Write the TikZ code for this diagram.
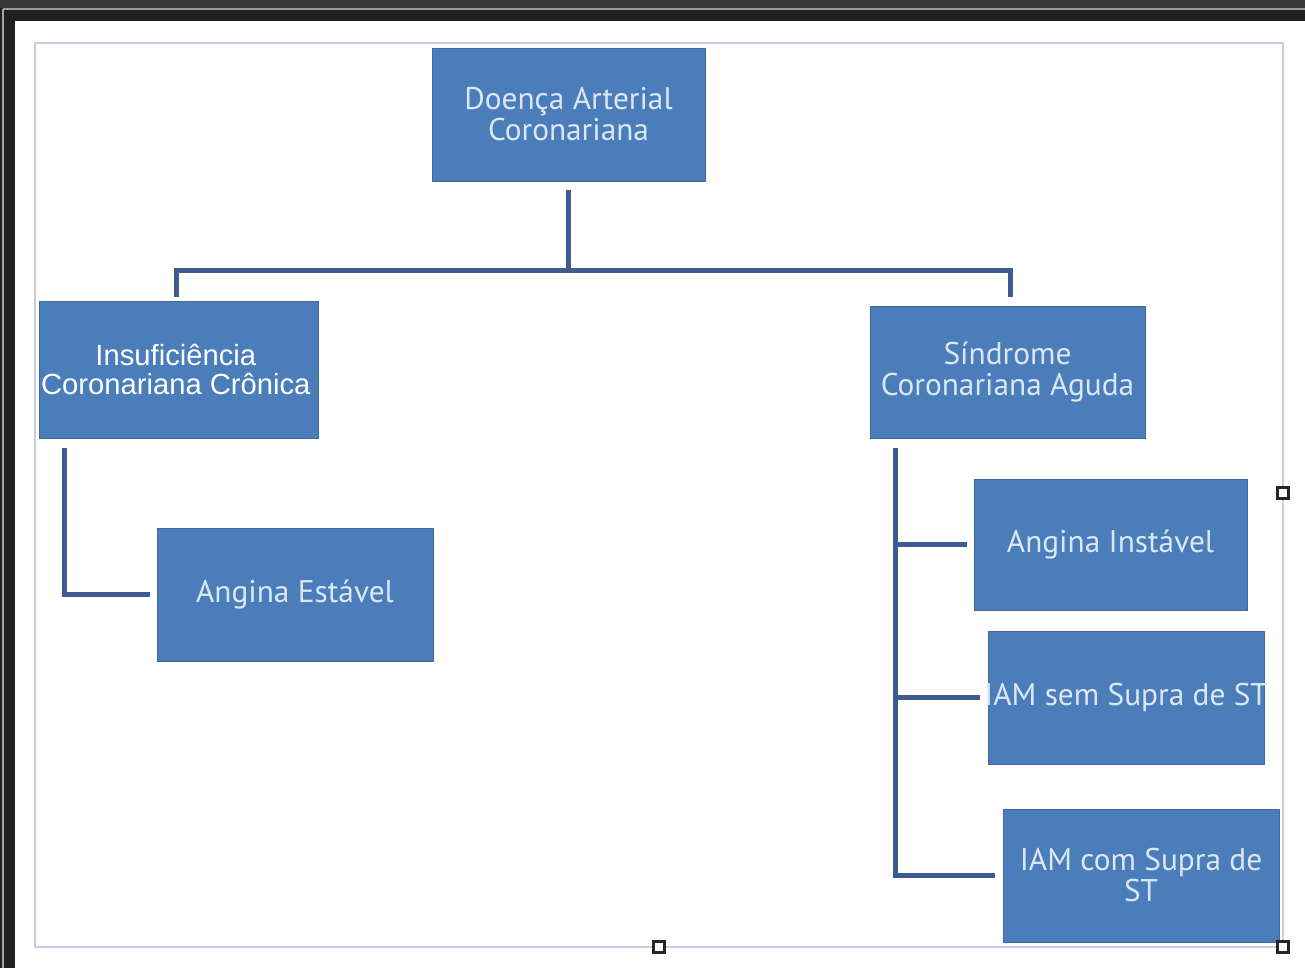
\documentclass[tikz,border=0pt]{standalone}
\usepackage{fontspec}
\setmainfont{Liberation Sans}
\newfontfamily\tah{PT Sans}
\definecolor{boxblue}{HTML}{4A7DBA}
\definecolor{boxedge}{HTML}{41699F}
\definecolor{conncol}{HTML}{3D5A92}
\definecolor{txtlight}{HTML}{DCE7F4}
\definecolor{framecol}{HTML}{C4CEE0}
\definecolor{darkbg}{HTML}{1F2020}
\definecolor{darktop}{HTML}{373737}
\begin{document}
\begin{tikzpicture}[x=0.75pt,y=-0.75pt,
  bluebox/.style={draw=boxedge,line width=0.6pt,fill=boxblue,inner sep=0pt,align=center},
  tahtext/.style={text=txtlight,font=\tah\fontsize{23.5}{23.25}\selectfont},
  arialtext/.style={text=white,font=\fontsize{21.9}{21.75}\selectfont},
  conn/.style={draw=conncol,line width=3.75pt},
  handle/.style={draw=black!85,fill=white,line width=1.8pt,minimum size=8.5pt,inner sep=0pt}]
\useasboundingbox (0,0) rectangle (1305,968);
% window background
\fill[darkbg] (0,0) rectangle (1305,968);
\fill[darktop] (0,0) rectangle (1305,8);
\draw[gray!80,line width=1pt] (3,9) -- (1305,9);
\draw[gray!70,line width=1pt] (3,9) -- (3,968);
\fill[white] (15,21) rectangle (1305,968);
% frame
\draw[framecol,line width=1.6pt] (35,43) rectangle (1283,947);
% boxes
\node[bluebox,tahtext,minimum width=204.75pt,minimum height=99.75pt] (top) at (568.5,114.5) {Doença Arterial\\Coronariana};
\node[bluebox,arialtext,minimum width=209.25pt,minimum height=102.75pt] (ins) at (178.5,369.5) {\hspace*{-4pt}Insuficiência\\\hspace*{-4pt}Coronariana Crônica};
\node[bluebox,tahtext,minimum width=207pt,minimum height=99.75pt] (ang) at (295,594.5) {Angina Estável};
\node[bluebox,tahtext,minimum width=206.25pt,minimum height=99pt] (sin) at (1007.5,372) {Síndrome\\Coronariana Aguda};
\node[bluebox,tahtext,minimum width=204.75pt,minimum height=98.25pt] (ai) at (1110.5,544.5) {Angina Instável};
\node[bluebox,tahtext,minimum width=207pt,minimum height=99.75pt] (sem) at (1126,697.5) {\makebox[0pt]{IAM sem Supra de ST}};
\node[bluebox,tahtext,minimum width=207pt,minimum height=99.75pt] (com) at (1141,875.5) {IAM com Supra de\\ST};
% connectors
\coordinate (hl) at (176,270);
\coordinate (hr) at (1010,270);
\coordinate (lx) at (64,0);
\coordinate (rx) at (895,0);
\draw[conn] ([yshift=-6.75pt]top.south) -- (top.south |- hl);
\draw[conn] ([yshift=3pt]ins.north -| hl) |- (hr) -- ([yshift=6.75pt]sin.north -| hr);
\draw[conn] ([yshift=-7.5pt]ins.south -| lx) |- ([xshift=-5pt]ang.west);
\draw[conn] ([yshift=-7.5pt]sin.south -| rx) |- ([xshift=-6pt]com.west);
\draw[conn] ([xshift=-5pt]ai.west) -- (ai.west -| rx);
\draw[conn] ([xshift=-6pt]sem.west) -- (sem.west -| rx);
% selection handles
\node[handle] (h1) at (1283,493) {};
\node[handle] (h2) at (659,947) {};
\node[handle] (h3) at (1283,947) {};
\end{tikzpicture}
\end{document}
